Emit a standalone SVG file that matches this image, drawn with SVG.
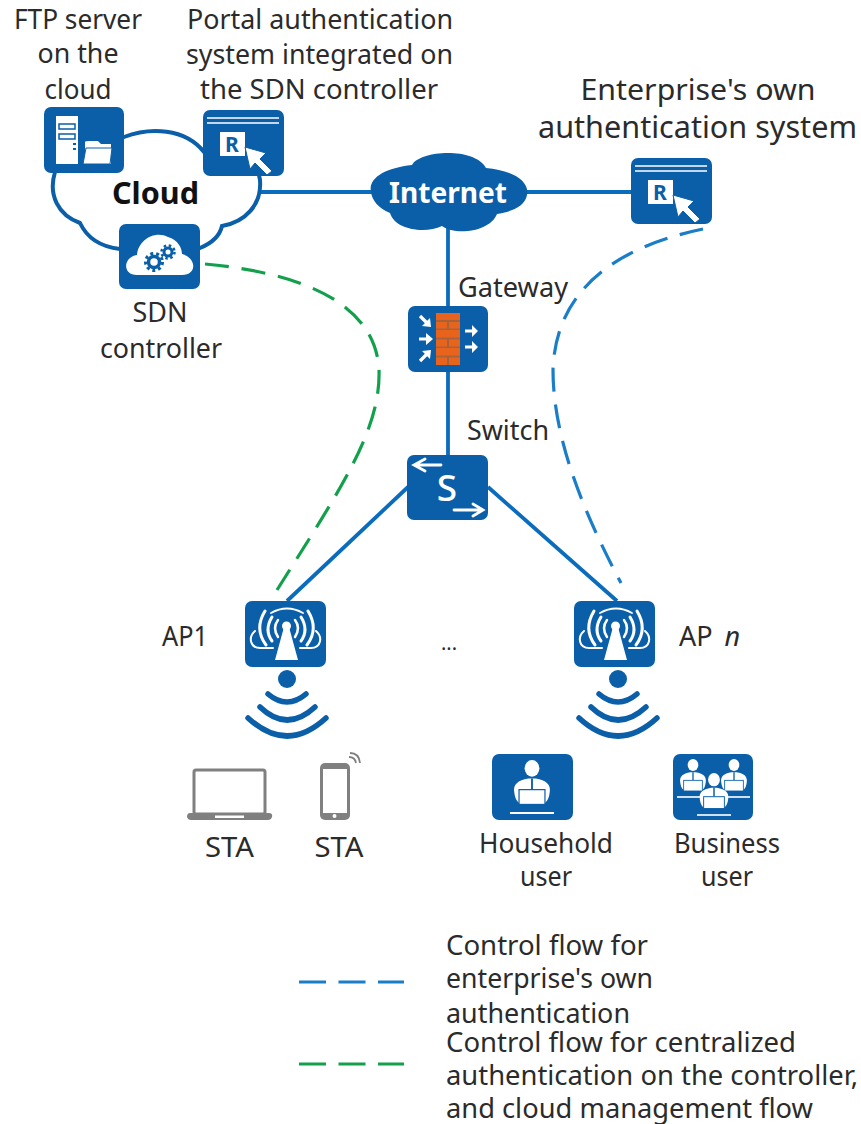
<svg xmlns="http://www.w3.org/2000/svg" width="861" height="1124" viewBox="0 0 861 1124">
<style>
text{font-family:"Noto Sans","Open Sans","DejaVu Sans",sans-serif;font-size:27px;fill:#2b2b2b}
.m{text-anchor:middle}
.box{fill:#0a5fa8}
.w{fill:#fff}
.ws{fill:none;stroke:#fff;stroke-linecap:round}
.link{fill:none;stroke:#0a6cbd;stroke-width:3.800}
.blue{fill:none;stroke:#1a7dc8;stroke-width:3.200;stroke-dasharray:24 13}
.green{fill:none;stroke:#12a04c;stroke-width:3.200;stroke-dasharray:24 13}
.lg{stroke-dasharray:27 12.500}
.wave{fill:none;stroke:#0a5fa8;stroke-width:5.500;stroke-linecap:round}
.gray{fill:#808080}
</style>
<defs>
<symbol id="portal" viewBox="0 0 81 66" width="81" height="66">
<rect class="box" width="81" height="66" rx="7"/>
<path d="M4 8H76M4 13H76" stroke="#fff" stroke-width="1.600" fill="none"/>
<rect class="w" x="17" y="22" width="25" height="24"/>
<text x="29" y="42" class="m" style="font-size:21px;font-weight:700;fill:#0a5fa8">R</text>
<polygon points="42,37 63,43 57,49 69,61 64,65 52,53 47,59" fill="#fff" stroke="#0a5fa8" stroke-width="1"/>
</symbol>
<symbol id="ap" viewBox="0 0 81 66" width="81" height="66">
<rect class="box" width="81" height="66" rx="7"/>
<polygon points="39,26 44,26 53,59 30,59" fill="#fff"/>
<circle cx="41.500" cy="25" r="4.500" fill="#fff"/>
<g class="ws">
<path d="M26 12Q42 3 58 12" stroke-width="1.800"/>
<path d="M33 19Q27 27 33 36M50 19Q56 27 50 36" stroke-width="2.500"/>
<path d="M27 16Q19 29 27 40M56 16Q64 29 56 40" stroke-width="3"/>
<path d="M20 10Q9 28 21 44M63 10Q74 28 62 44" stroke-width="3"/>
<path d="M10 30C3 36 5 47 15 47H28M71 30C78 36 76 47 66 47H55" stroke-width="2"/>
</g>
</symbol>
<symbol id="waves" viewBox="0 0 90 74" width="90" height="74">
<circle cx="45" cy="11" r="9" fill="#0a5fa8"/>
<path class="wave" d="M26 26Q45 42 64 26M18 39Q45 65 73 39M6 50Q45 86 84 50"/>
</symbol>
<symbol id="person" viewBox="0 0 44 54" width="44" height="54">
<ellipse cx="22" cy="9" rx="8" ry="9" fill="#fff"/>
<path d="M3 36C1 26 7 22 18 20H26C37 22 43 26 41 36C40 44 36 47 34 47H10C8 47 4 44 3 36Z" fill="#fff"/>
<path d="M22 20V32" stroke="#0a5fa8" stroke-width="2"/>
<rect x="8" y="32" width="28" height="16" fill="#fff" stroke="#0a5fa8" stroke-width="1.300"/>
</symbol>
</defs>

<g id="connectors">
<path class="link" d="M258 192H375M523 192H634M448 228V308M448 370V457"/>
<path class="link" stroke-width="3.200" d="M408 487L287 601M488 487L617 601"/>
<path class="green" d="M205 264C270 270 375 290 379 370C381 430 340 490 277 590"/>
<path class="blue" d="M703 229C650 240 556 270 553 370C553 440 585 515 621 583"/>
</g>

<g id="cloud">
<path d="M55 172C48 195 58 215 80 223C88 240 102 247 120 249L200 248C212 243 220 235 222 226C245 222 262 205 260 180L258 170L204 152C185 128 150 127 124 137L60 165Z" fill="#fff" stroke="#0a5fa8" stroke-width="4"/>
<text x="155.500" y="204" class="m" textLength="87" lengthAdjust="spacingAndGlyphs" style="font-size:30px;font-weight:700;fill:#111">Cloud</text>
</g>

<g id="ftp">
<rect class="box" x="44" y="107" width="80" height="66" rx="7"/>
<rect class="w" x="56" y="116" width="22" height="48"/>
<path d="M59 124H75V129H59ZM59 134H75V139H59Z" fill="none" stroke="#0a5fa8" stroke-width="1.500"/>
<path d="M73 144H76M73 149H76" stroke="#0a5fa8" stroke-width="2"/>
<path d="M85 164V142Q85 141 90 141H98L101 144H111V164Z" class="w"/>
<path d="M83 164L86 148H112L110 164Z" class="w" stroke="#0a5fa8" stroke-width="1"/>
<text x="78" y="29" class="m" textLength="128" lengthAdjust="spacingAndGlyphs">FTP server</text>
<text x="78" y="63" class="m" textLength="81" lengthAdjust="spacingAndGlyphs">on the</text>
<text x="78" y="99" class="m" textLength="67" lengthAdjust="spacingAndGlyphs">cloud</text>
</g>

<g id="portal-auth">
<use href="#portal" x="203" y="110"/>
<text x="320" y="29" class="m" textLength="266" lengthAdjust="spacingAndGlyphs">Portal authentication</text>
<text x="319.500" y="64" class="m" textLength="267" lengthAdjust="spacingAndGlyphs">system integrated on</text>
<text x="319" y="99" class="m" textLength="238" lengthAdjust="spacingAndGlyphs">the SDN controller</text>
</g>

<g id="sdn">
<rect class="box" x="119" y="224" width="81" height="65" rx="7"/>
<path d="M137 275C122 275 123 257 137 255C138 240 155 230 168 237C178 240 182 248 182 254C197 258 197 275 182 275Z" class="w"/>
<circle cx="154" cy="262" r="5.500" fill="none" stroke="#0a5fa8" stroke-width="3.500"/>
<circle cx="154" cy="262" r="8.500" fill="none" stroke="#0a5fa8" stroke-width="3" stroke-dasharray="3 3"/>
<circle cx="168" cy="252" r="4" fill="none" stroke="#0a5fa8" stroke-width="3"/>
<circle cx="168" cy="252" r="6.500" fill="none" stroke="#0a5fa8" stroke-width="2.500" stroke-dasharray="2.500 2.600"/>
<text x="160" y="322" class="m" textLength="55" lengthAdjust="spacingAndGlyphs">SDN</text>
<text x="161" y="358" class="m" textLength="122" lengthAdjust="spacingAndGlyphs">controller</text>
</g>

<g id="internet">
<path class="box" d="M371 192C368 178 385 168 412 165C420 150 475 147 486 168C510 170 530 180 527 195C525 207 510 212 497 214C490 232 455 236 442 226C425 234 395 230 390 213C378 208 372 200 371 192Z"/>
<text x="448" y="203" class="m" textLength="118" lengthAdjust="spacingAndGlyphs" style="font-size:29px;font-weight:700;fill:#fff">Internet</text>
</g>

<g id="enterprise-auth">
<use href="#portal" x="631" y="158"/>
<text x="698" y="100" class="m" textLength="235" lengthAdjust="spacingAndGlyphs" style="font-size:29px">Enterprise's own</text>
<text x="697.500" y="138" class="m" textLength="319" lengthAdjust="spacingAndGlyphs" style="font-size:30px">authentication system</text>
</g>

<g id="gateway">
<rect class="box" x="408" y="306" width="80" height="66" rx="7"/>
<rect x="436" y="313" width="24" height="52" fill="#a8623a"/>
<path fill="#e8641c" d="M436 313H460V320H436ZM436 322H447V328.500H436ZM449 322H460V328.500H449ZM436 330H460V337.500H436ZM436 339.500H447V346.500H436ZM449 339.500H460V346.500H449ZM436 348H460V355.500H436ZM436 357.500H447V365H436ZM449 357.500H460V365H449Z"/>
<path fill="none" stroke="#fff" stroke-width="3.200" d="M420 316L428 324M419 339H428M420 361L428 353M465 331H473M465 347H473"/>
<path class="w" d="M431 327L422 326L430 318ZM433 339L426 333V345ZM431 350L422 351L430 359ZM478 331L472 325V337ZM478 347L472 341V353Z"/>
<text x="458" y="297" textLength="110" lengthAdjust="spacingAndGlyphs">Gateway</text>
</g>

<g id="switch">
<rect class="box" x="407" y="455" width="81" height="65" rx="7"/>
<path class="ws" stroke-width="2.800" d="M441 465H416M425 459L414 465L425 471M454 510H481M473 504L483 510L473 516"/>
<text x="447" y="501" class="m" style="font-size:37px;font-weight:500;fill:#fff">S</text>
<text x="467" y="440" textLength="82" lengthAdjust="spacingAndGlyphs">Switch</text>
</g>

<g id="ap1">
<use href="#ap" x="245" y="601"/>
<use href="#waves" x="242" y="668"/>
<text x="162" y="646" textLength="46" lengthAdjust="spacingAndGlyphs">AP1</text>
</g>

<text id="ellipsis" x="441" y="650" style="font-size:20px">...</text>

<g id="apn">
<use href="#ap" x="574" y="601"/>
<use href="#waves" x="573" y="668"/>
<text x="679" y="646">AP <tspan dx="5" font-style="italic">n</tspan></text>
</g>

<g id="sta-laptop">
<rect x="194" y="770" width="71" height="44" rx="2" fill="#fff" stroke="#808080" stroke-width="3"/>
<path class="gray" d="M190 813H215V818H244V813H269Q273 813 272 817Q271 820 268 820H191Q188 820 187 817Q187 813 190 813Z"/>
<text x="229.500" y="857" class="m" textLength="49" lengthAdjust="spacingAndGlyphs">STA</text>
</g>

<g id="sta-phone">
<rect class="gray" x="320" y="763" width="30" height="57" rx="5"/>
<rect class="w" x="323" y="769" width="24" height="44"/>
<circle cx="334.500" cy="816" r="2" fill="#fff"/>
<path d="M349 757Q355 757 356 763M350 753Q359 753 360 763" fill="none" stroke="#808080" stroke-width="1.800"/>
<text x="339" y="857" class="m" textLength="49" lengthAdjust="spacingAndGlyphs">STA</text>
</g>

<g id="household">
<rect class="box" x="492" y="754" width="81" height="66" rx="7"/>
<use href="#person" x="510" y="760" width="44" height="50"/>
<path d="M510 813H554" stroke="#fff" stroke-width="2"/>
<text x="546" y="853" class="m" textLength="134" lengthAdjust="spacingAndGlyphs">Household</text>
<text x="546" y="886" class="m" textLength="52" lengthAdjust="spacingAndGlyphs">user</text>
</g>

<g id="business">
<rect class="box" x="673" y="754" width="80" height="66" rx="7"/>
<use href="#person" x="678" y="759" width="30" height="36"/>
<use href="#person" x="719" y="759" width="30" height="36"/>
<path d="M677 797H708M720 797H750" stroke="#cfe0ef" stroke-width="2"/>
<use href="#person" x="696" y="773" width="36" height="40"/>
<path d="M697 815H731" stroke="#cfe0ef" stroke-width="2"/>
<text x="727" y="853" class="m" textLength="106" lengthAdjust="spacingAndGlyphs">Business</text>
<text x="727" y="886" class="m" textLength="52" lengthAdjust="spacingAndGlyphs">user</text>
</g>

<g id="legend">
<path class="blue lg" d="M299 982H404"/>
<path class="green lg" d="M299 1064H404"/>
<text x="446" y="955" textLength="202" lengthAdjust="spacingAndGlyphs">Control flow for</text>
<text x="446" y="988" textLength="207" lengthAdjust="spacingAndGlyphs">enterprise's own</text>
<text x="446" y="1023" textLength="184" lengthAdjust="spacingAndGlyphs">authentication</text>
<text x="446" y="1052" textLength="350" lengthAdjust="spacingAndGlyphs">Control flow for centralized</text>
<text x="446" y="1085" textLength="412" lengthAdjust="spacingAndGlyphs">authentication on the controller,</text>
<text x="446" y="1118" textLength="367" lengthAdjust="spacingAndGlyphs">and cloud management flow</text>
</g>
</svg>
